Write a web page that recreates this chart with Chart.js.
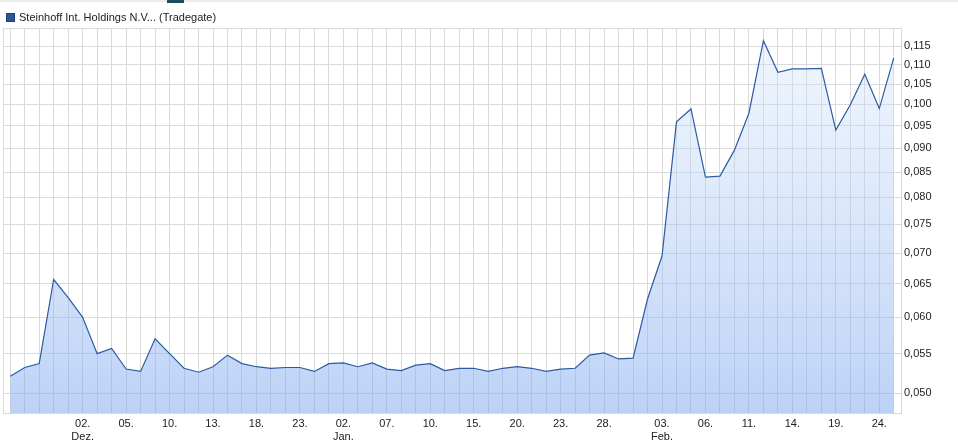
<!DOCTYPE html>
<html>
<head>
<meta charset="utf-8">
<script src="https://cdn.jsdelivr.net/npm/chart.js@4"></script>
<style>
    body { margin: 0; background: #fff; font-family: "Liberation Sans", Arial, sans-serif; }
    #wrap { position: relative; width: 958px; height: 446px; }
    #topline { position: absolute; left: 0; top: 0; width: 958px; height: 2px; background: #ececec; }
    #tab { position: absolute; left: 167px; top: 0; width: 17px; height: 3px; background: #1e4e5e; }
    #legend { position: absolute; left: 6px; top: 11px; font-size: 11px; color: #222; display: flex; align-items: center; }
    #legend span.box { display: inline-block; width: 7px; height: 7px; background: #2b5597; border: 1px solid #1c3f78; margin-right: 4px; }
    canvas { position: absolute; left: 0; top: 0; }
</style>
</head>
<body>
<div id="wrap">
    <canvas id="chart" width="958" height="446"></canvas>
    <div id="topline"></div>
    <div id="tab"></div>
    <div id="legend"><span class="box"></span>Steinhoff Int. Holdings N.V... (Tradegate)</div>
</div>
<script>
// price series, one value per trading day
const prices = [
    0.0521, 0.0532, 0.0537, 0.0657, 0.0629, 0.0600, 0.0550, 0.0557, 0.0530, 0.0527,
    0.0570, 0.0550, 0.0531, 0.0526, 0.0533, 0.0548, 0.0537, 0.0533, 0.0531, 0.0532,
    0.0532, 0.0527, 0.0537, 0.0538, 0.0533, 0.0538, 0.0530, 0.0528, 0.0535, 0.0537,
    0.0528, 0.0531, 0.0531, 0.0527, 0.0531, 0.0533, 0.0531, 0.0527, 0.0530, 0.0531,
    0.0548, 0.0551, 0.0543, 0.0544, 0.0627, 0.0695, 0.0959, 0.0989, 0.0840, 0.0842,
    0.0896, 0.0979, 0.1165, 0.1080, 0.1089, 0.1089, 0.1090, 0.0940, 0.0999, 0.1075,
    0.0990, 0.1118
];

// x tick labels: position in the series, day text, month text
const tickIndex = [5, 8, 11, 14, 17, 20, 23, 26, 29, 32, 35, 38, 41, 45, 48, 51, 54, 57, 60];
const tickDays = ['02.', '05.', '10.', '13.', '18.', '23.', '02.', '07.', '10.', '15.', '20.', '23.', '28.', '03.', '06.', '11.', '14.', '19.', '24.'];
const tickMonths = ['Dez.', '', '', '', '', '', 'Jan.', '', '', '', '', '', '', 'Feb.', '', '', '', '', ''];

const yTicks = [0.050, 0.055, 0.060, 0.065, 0.070, 0.075, 0.080, 0.085, 0.090, 0.095, 0.100, 0.105, 0.110, 0.115];

var labels = prices.map(function(v, i) {
    var k = tickIndex.indexOf(i);
    if (k < 0) return '';
    return tickMonths[k] ? [tickDays[k], tickMonths[k]] : tickDays[k];
});

const gridColor = '#dadada';

// full frame round the plot area
const framePlugin = {
    id: 'frame',
    afterDraw: function(chart) {
        var a = chart.chartArea;
        var ctx = chart.ctx;
        ctx.save();
        ctx.strokeStyle = gridColor;
        ctx.lineWidth = 1;
        ctx.strokeRect(Math.round(a.left) + 0.5, Math.round(a.top) + 0.5,
            Math.round(a.right - a.left), Math.round(a.bottom - a.top));
        ctx.restore();
    }
};

var ctx = document.getElementById('chart').getContext('2d');

var config = {
    type: 'line',
    data: {
        labels: labels,
        datasets: [{
            data: prices,
            borderColor: '#2d5ba3',
            borderWidth: 1.2,
            tension: 0,
            pointRadius: 0,
            fill: 'start',
            backgroundColor: function(context) {
                var area = context.chart.chartArea;
                if (!area) return 'rgba(150,185,240,0.4)';
                var g = context.chart.ctx.createLinearGradient(0, area.top, 0, area.bottom);
                g.addColorStop(0, 'rgba(215,230,250,0.35)');
                g.addColorStop(1, 'rgba(125,168,238,0.52)');
                return g;
            }
        }]
    },
    options: {
        responsive: false,
        animation: false,
        layout: {
            padding: { left: 3, top: 28, right: 0, bottom: 0 }
        },
        scales: {
            x: {
                offset: true,
                grid: { color: gridColor, drawTicks: false, offset: false },
                border: { display: false },
                afterFit: function(scale) { scale.height = 33; },
                ticks: {
                    autoSkip: false,
                    maxRotation: 0,
                    padding: 4,
                    color: '#222',
                    font: { family: '"Liberation Sans", Arial, sans-serif', size: 11 },
                    callback: function(value, index) { return labels[index]; }
                }
            },
            y: {
                type: 'logarithmic',
                position: 'right',
                min: 0.0477,
                max: 0.1201,
                grid: { color: gridColor, drawTicks: false },
                border: { display: false },
                afterBuildTicks: function(scale) {
                    scale.ticks = yTicks.map(function(v) { return { value: v }; });
                },
                afterFit: function(scale) { scale.width = 57; },
                ticks: {
                    padding: 3,
                    color: '#222',
                    font: { family: '"Liberation Sans", Arial, sans-serif', size: 11 },
                    callback: function(value) { return value.toFixed(3).replace('.', ','); }
                }
            }
        },
        plugins: {
            legend: { display: false },
            tooltip: { enabled: false }
        }
    },
    plugins: [framePlugin]
};

new Chart(ctx, config);
</script>
</body>
</html>
